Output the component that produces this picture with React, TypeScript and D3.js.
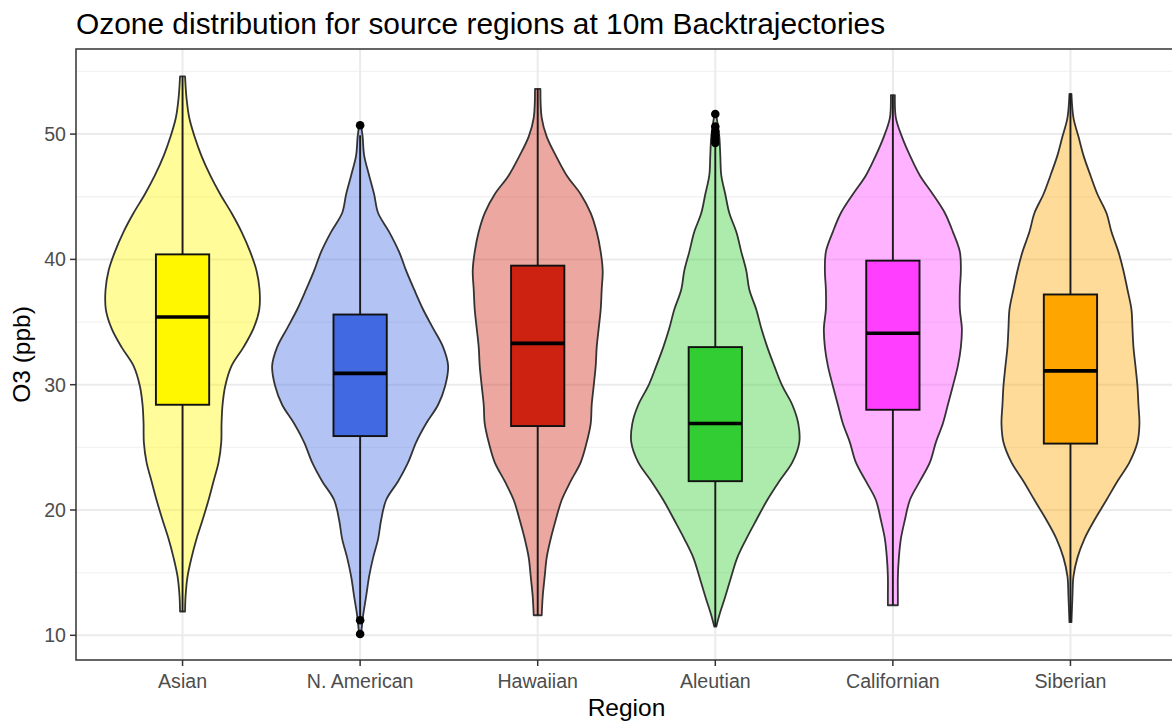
import React from "react";
import * as d3 from "d3";

const W = 1172;
const H = 726;

const regions = ["Asian", "N. American", "Hawaiian", "Aleutian", "Californian", "Siberian"];
const boxColors = ["#FFF700", "#4169E1", "#CD2211", "#32CD32", "#FF3EFF", "#FFA500"];

const yTicks = [10, 20, 30, 40, 50];
const yMinor = [15, 25, 35, 45, 55];

// violin density profiles (O3 level, relative density)
const asianLevels = [54.6, 52.85, 51.3, 49.8, 48.3, 46.7, 45.2, 43.7, 42.2, 40.6, 39.1, 37.6, 36.0, 34.5, 33.0, 31.5, 29.9, 28.4, 26.9, 25.4, 23.8, 22.3, 20.8, 19.2, 17.7, 16.2, 14.7, 13.1, 11.9];
const asianDensity = [2.5, 4, 6.7, 12, 18.7, 27.7, 37.7, 49, 59, 67.7, 74, 77, 76.7, 71, 61, 49, 42.7, 40, 39, 38.7, 36, 31, 26, 20, 14, 9, 5, 3, 2.5];

const namerLevels = [50.7, 49.8, 48.3, 46.7, 45.2, 43.7, 42.2, 40.6, 39.1, 37.6, 36.0, 34.5, 33.0, 31.5, 29.9, 28.4, 26.9, 25.4, 23.8, 22.3, 20.8, 19.2, 17.7, 16.2, 14.7, 13.1, 11.6, 10.1];
const namerDensity = [1, 2.5, 4, 9, 14, 18, 29, 39, 46, 54, 63, 73, 83, 88, 85, 78, 66, 56, 48, 38, 26, 21, 18, 13, 9, 6, 3, 1];

const hawaiiLevels = [53.6, 51.3, 49.8, 48.3, 46.7, 45.2, 43.7, 42.2, 40.6, 39.1, 37.6, 36.0, 34.5, 33.0, 31.5, 29.9, 28.4, 26.9, 25.4, 23.8, 22.3, 20.8, 19.2, 17.7, 16.2, 14.7, 13.1, 11.6];
const hawaiiDensity = [2.7, 4, 9, 18, 29, 43, 53, 59, 63, 65, 64, 63, 61, 59, 58, 56, 54, 53, 49, 43, 33, 24, 18, 13, 9, 7, 5, 4];

const aleutLevels = [51.5, 49.8, 48.3, 46.7, 45.2, 43.7, 42.2, 40.6, 39.1, 37.6, 36.0, 34.5, 33.0, 31.5, 29.9, 28.4, 26.9, 25.4, 23.8, 22.3, 20.8, 19.2, 17.7, 16.2, 14.7, 13.1, 11.6, 10.7];
const aleutDensity = [1, 4, 5, 6, 10, 14, 21, 26, 31, 34, 41, 46, 52, 59, 67, 77, 83, 84, 77, 64, 52, 41, 31, 22, 16, 10, 4, 1];

const califLevels = [53.1, 51.3, 49.8, 48.3, 46.7, 45.2, 43.7, 42.2, 40.6, 39.1, 37.6, 36.0, 34.5, 33.0, 31.5, 29.9, 28.4, 26.9, 25.4, 23.8, 22.3, 20.8, 19.2, 17.7, 16.2, 14.7, 13.1, 12.4];
const califDensity = [2, 3, 9, 17, 27, 40, 52, 60, 67, 68, 67, 67, 69, 68, 65, 60, 55, 50, 43, 37, 27, 17, 12, 8, 6, 5, 5, 5];

const siberLevels = [53.2, 51.3, 49.8, 48.3, 46.7, 45.2, 43.7, 42.2, 40.6, 39.1, 37.6, 36.0, 34.5, 33.0, 31.5, 29.9, 28.4, 26.9, 25.4, 23.8, 22.3, 20.8, 19.2, 17.7, 16.2, 14.7, 13.1, 11.05];
const siberDensity = [1, 3, 8, 13, 20, 27, 36, 41, 48, 53, 57, 61, 62, 63, 65, 67, 68, 69, 67, 59, 47, 36, 24, 14, 7, 3, 2, 1];

const violinLevels = [asianLevels, namerLevels, hawaiiLevels, aleutLevels, califLevels, siberLevels];
const violinDensity = [asianDensity, namerDensity, hawaiiDensity, aleutDensity, califDensity, siberDensity];

// box statistics
const q1 = [28.4, 25.9, 26.7, 22.3, 28.0, 25.3];
const medians = [35.4, 30.9, 33.3, 26.9, 34.1, 31.1];
const q3 = [40.4, 35.6, 39.5, 33.0, 39.9, 37.2];
const whiskerLow = [11.9, 11.45, 11.6, 10.7, 12.4, 11.05];
const whiskerHigh = [54.6, 49.9, 53.6, 49.1, 53.1, 53.2];
const outliers = [[], [50.7, 11.2, 10.1], [], [51.6, 50.6, 50.2, 49.9, 49.6, 49.3], [], []];

export default function App() {
  const left = 76, right = 1177, top = 49, bottom = 660;
  const x = d3.scalePoint<string>().domain(regions).range([left, right]).padding(0.6);
  const step = x.step();
  const y = d3.scaleLinear().domain([8.03, 56.79]).range([bottom, top]);
  const dens = d3.scaleLinear().domain([0, 100]).range([0, (step * 100) / 177.6]);
  const boxHalf = step * 0.15;

  const font = "'Liberation Sans', Arial, Helvetica, sans-serif";

  return (
    <svg width={W} height={H} style={{ position: "absolute", left: 0, top: 0, background: "#fff" }} fontFamily={font}>
      <rect x={0} y={0} width={W} height={H} fill="#fff" />
      <defs>
        <clipPath id="panel">
          <rect x={left} y={top} width={right - left} height={bottom - top} />
        </clipPath>
      </defs>
      {/* grid */}
      <g clipPath="url(#panel)">
        {yMinor.map((t) => (
          <line key={"m" + t} x1={left} x2={right} y1={y(t)} y2={y(t)} stroke="#F3F3F3" strokeWidth={1.3} />
        ))}
        {yTicks.map((t) => (
          <line key={"g" + t} x1={left} x2={right} y1={y(t)} y2={y(t)} stroke="#EBEBEB" strokeWidth={2} />
        ))}
        {regions.map((r) => (
          <line key={"v" + r} x1={x(r)} x2={x(r)} y1={top} y2={bottom} stroke="#EBEBEB" strokeWidth={2} />
        ))}
      </g>
      {/* violins */}
      {regions.map((r, i) => {
        const cx = x(r) as number;
        const pts = violinLevels[i].map((v, k) => ({ v, d: violinDensity[i][k] }));
        const area = d3
          .area<{ v: number; d: number }>()
          .y((p) => y(p.v))
          .x0((p) => cx - dens(p.d))
          .x1((p) => cx + dens(p.d))
          .curve(d3.curveCatmullRom.alpha(0.5));
        return (
          <path key={"vio" + r} d={area(pts) || ""} fill={boxColors[i]} fillOpacity={0.4} stroke="#333" strokeWidth={1.8} strokeLinejoin="round" />
        );
      })}
      {/* boxplots */}
      {regions.map((r, i) => {
        const cx = x(r) as number;
        return (
          <g key={"box" + r}>
            <line x1={cx} x2={cx} y1={y(q3[i])} y2={y(whiskerHigh[i])} stroke="#1a1a1a" strokeWidth={1.9} />
            <line x1={cx} x2={cx} y1={y(q1[i])} y2={y(whiskerLow[i])} stroke="#1a1a1a" strokeWidth={1.9} />
            <rect x={cx - boxHalf} y={y(q3[i])} width={boxHalf * 2} height={y(q1[i]) - y(q3[i])} fill={boxColors[i]} stroke="#111" strokeWidth={1.9} />
            <line x1={cx - boxHalf} x2={cx + boxHalf} y1={y(medians[i])} y2={y(medians[i])} stroke="#000" strokeWidth={3.6} />
            {outliers[i].map((o, k) => (
              <circle key={k} cx={cx} cy={y(o)} r={4.3} fill="#000" />
            ))}
          </g>
        );
      })}
      {/* panel border */}
      <rect x={left} y={top} width={right - left} height={bottom - top} fill="none" stroke="#333" strokeWidth={1.5} />
      {/* y axis */}
      {yTicks.map((t) => (
        <g key={"yt" + t}>
          <line x1={left - 6} x2={left} y1={y(t)} y2={y(t)} stroke="#333" strokeWidth={1.5} />
          <text x={left - 10} y={y(t)} dy="0.35em" textAnchor="end" fontSize={19.6} fill="#4D4D4D">
            {t}
          </text>
        </g>
      ))}
      {/* x axis */}
      {regions.map((r) => (
        <g key={"xt" + r}>
          <line x1={x(r)} x2={x(r)} y1={bottom} y2={bottom + 6} stroke="#333" strokeWidth={1.5} />
          <text x={x(r)} y={688} textAnchor="middle" fontSize={19.6} fill="#4D4D4D">
            {r}
          </text>
        </g>
      ))}
      <text x={(left + right) / 2} y={716} textAnchor="middle" fontSize={24.5} fill="#000">
        Region
      </text>
      <text transform={`translate(30, ${(top + bottom) / 2}) rotate(-90)`} textAnchor="middle" fontSize={24.5} fill="#000">
        O3 (ppb)
      </text>
      <text x={left} y={34} fontSize={29.9} fill="#000">
        Ozone distribution for source regions at 10m Backtrajectories
      </text>
    </svg>
  );
}
